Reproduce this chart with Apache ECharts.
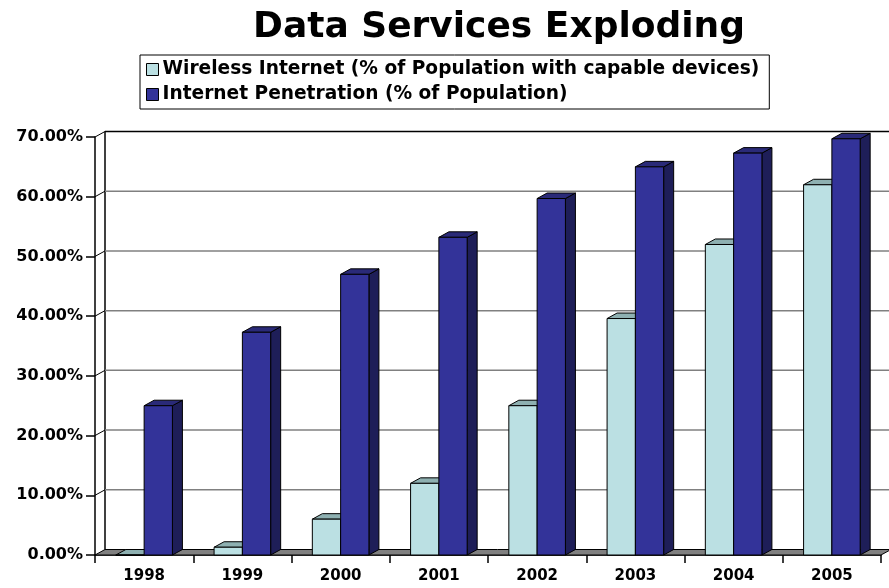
<!DOCTYPE html>
<html>
<head>
<meta charset="utf-8">
<script src="https://cdn.jsdelivr.net/npm/echarts@6/dist/echarts.min.js"></script>
<style>html,body{margin:0;padding:0;background:#fff}#c{width:889px;height:588px}</style>
</head>
<body>
<div id="c"></div>
<script>
const categories = ['1998','1999','2000','2001','2002','2003','2004','2005'];
const wirelessValues = [0, 1.3, 6, 12, 25, 39.6, 52, 62];
const internetValues = [25, 37.3, 47, 53.2, 59.7, 65, 67.3, 69.7];
const yTicks = [0, 10, 20, 30, 40, 50, 60, 70];
const seriesNames = ['Wireless Internet (% of Population with capable devices)', 'Internet Penetration (% of Population)'];

const FONT = 'DejaVu Sans';
const DX = 10, DY = -5.5;

function barRender(slot, front, side, topc) {
  return function (params, api) {
    const ci = api.value(0), v = api.value(1);
    const base = api.coord([ci, 0]);
    const top = api.coord([ci, v]);
    const cw = api.size([1, 0])[0];
    const w = cw * 0.288;
    const x = base[0] - w + slot * w;
    const y0 = base[1], y1 = top[1];
    return {
      type: 'group',
      children: [
        { type: 'polygon', shape: { points: [[x + w, y1], [x + w + DX, y1 + DY], [x + w + DX, y0 + DY], [x + w, y0]] },
          style: { fill: side, stroke: '#000', lineWidth: 1 } },
        { type: 'polygon', shape: { points: [[x, y1], [x + DX, y1 + DY], [x + w + DX, y1 + DY], [x + w, y1]] },
          style: { fill: topc, stroke: '#000', lineWidth: 1 } },
        { type: 'rect', shape: { x: x, y: y1, width: w, height: y0 - y1 },
          style: { fill: front, stroke: '#000', lineWidth: 1 } }
      ]
    };
  };
}

function wallRender(params, api) {
  const t = api.value(0);
  const cs = params.coordSys;
  const L = cs.x, R = cs.x + cs.width;
  const y = api.coord([0, t])[1];
  const children = [];
  if (t === 0) {
    const yTop = api.coord([0, yTicks[yTicks.length - 1]])[1];
    children.push({ type: 'polygon', shape: { points: [[L, y], [L + DX, y + DY], [R + DX, y + DY], [R, y]] },
      style: { fill: '#808080', stroke: '#000', lineWidth: 1 } });
    children.push({ type: 'line', shape: { x1: L + DX, y1: y + DY, x2: L + DX, y2: yTop + DY },
      style: { stroke: '#000', lineWidth: 1.5 } });
  } else {
    const last = t === yTicks[yTicks.length - 1];
    children.push({ type: 'line', shape: { x1: L + DX, y1: y + DY, x2: R + DX + 20, y2: y + DY },
      style: { stroke: last ? '#000' : '#808080', lineWidth: 1.5 } });
    children.push({ type: 'line', shape: { x1: L, y1: y, x2: L + DX, y2: y + DY },
      style: { stroke: '#000', lineWidth: 1 } });
  }
  return { type: 'group', children: children };
}

const chart = echarts.init(document.getElementById('c'), null, { renderer: 'canvas' });
chart.setOption({
  animation: false,
  backgroundColor: '#fff',
  title: {
    text: 'Data Services Exploding',
    left: 248, top: 5,
    textStyle: { fontFamily: FONT, fontWeight: 'bold', fontSize: 36, color: '#000' }
  },
  legend: {
    data: seriesNames,
    orient: 'vertical',
    left: 140, top: 55,
    padding: [5, 10, 5, 6],
    itemGap: 6,
    itemWidth: 12, itemHeight: 12,
    icon: 'rect',
    borderColor: '#000', borderWidth: 1,
    itemStyle: { borderColor: '#000', borderWidth: 1 },
    textStyle: { fontFamily: FONT, fontWeight: 'bold', fontSize: 18.6, color: '#000', padding: [0, 0, 0, -1] }
  },
  grid: { left: 95, right: 8, top: 137, bottom: 33, containLabel: false },
  xAxis: {
    type: 'category',
    data: categories,
    boundaryGap: true,
    axisLine: { show: true, lineStyle: { color: '#000', width: 1.5 } },
    axisTick: { show: true, length: 8, interval: 0, lineStyle: { color: '#000', width: 1.5 } },
    axisLabel: { fontFamily: FONT, fontWeight: 'bold', fontSize: 15, color: '#000', margin: 14, interval: 0 },
    splitLine: { show: false }
  },
  yAxis: {
    type: 'value',
    min: 0, max: 70, interval: 10,
    axisLine: { show: true, lineStyle: { color: '#000', width: 1.5 } },
    axisTick: { show: true, length: 9, lineStyle: { color: '#000', width: 1.5 } },
    axisLabel: { fontFamily: FONT, fontWeight: 'bold', fontSize: 16, color: '#000', margin: 12,
      formatter: function (v) { return v.toFixed(2) + '%'; } },
    splitLine: { show: false }
  },
  series: [
    {
      type: 'custom', name: '_walls', silent: true, z: 1,
      data: yTicks.map(function (t) { return [t]; }),
      encode: { y: 0 },
      renderItem: wallRender
    },
    {
      type: 'custom', name: seriesNames[0], z: 2,
      itemStyle: { color: '#BBE0E3' },
      data: categories.map(function (c, i) { return [i, wirelessValues[i]]; }),
      encode: { x: 0, y: 1 },
      renderItem: barRender(0, '#BBE0E3', '#5E8A8C', '#8EB0B1')
    },
    {
      type: 'custom', name: seriesNames[1], z: 3,
      itemStyle: { color: '#333399' },
      data: categories.map(function (c, i) { return [i, internetValues[i]]; }),
      encode: { x: 0, y: 1 },
      renderItem: barRender(1, '#333399', '#1E1E58', '#2A2A78')
    }
  ]
});
</script>
</body>
</html>
